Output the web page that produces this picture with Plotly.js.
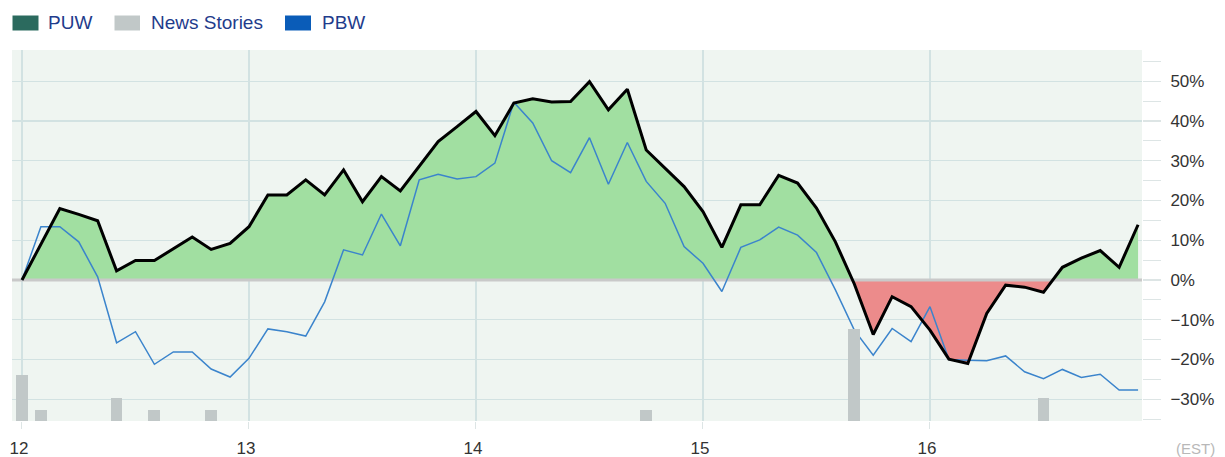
<!DOCTYPE html>
<html>
<head>
<meta charset="utf-8">
<script src="https://cdn.plot.ly/plotly-3.0.1.min.js"></script>
<style>html,body{margin:0;padding:0;background:#fff;} #chart{width:1225px;height:457px;}</style>
</head>
<body>
<div id="chart"></div>
<script>
// Time grid (fractional day of month, 2-hour-ish intraday steps)
const times = [
  12.0000, 12.0833, 12.1667, 12.2500, 12.3333, 12.4167, 12.5000, 12.5833, 12.6667, 12.7500, 12.8333, 12.9167,
  13.0000, 13.0833, 13.1667, 13.2500, 13.3333, 13.4167, 13.5000, 13.5833, 13.6667, 13.7500, 13.8333, 13.9167,
  14.0000, 14.0833, 14.1667, 14.2500, 14.3333, 14.4167, 14.5000, 14.5833, 14.6667, 14.7500, 14.8333, 14.9167,
  15.0000, 15.0833, 15.1667, 15.2500, 15.3333, 15.4167, 15.5000, 15.5833, 15.6667, 15.7500, 15.8333, 15.9167,
  16.0000, 16.0833, 16.1667, 16.2500, 16.3333, 16.4167, 16.5000, 16.5833, 16.6667, 16.7500, 16.8333, 16.9167
];
// PUW % change
const puw = [
  0, 9.2, 18.0, 16.5, 14.9, 2.3, 4.9, 4.9, 7.8, 10.8, 7.7, 9.2,
  13.4, 21.4, 21.4, 25.2, 21.4, 27.7, 19.7, 26.0, 22.4, 28.5, 34.8, 38.6,
  42.4, 36.3, 44.5, 45.6, 44.8, 44.9, 49.9, 42.8, 48.0, 32.7, 28.1, 23.5,
  17.2, 8.2, 18.9, 18.9, 26.3, 24.4, 18.1, 9.6, -1.0, -13.7, -4.2, -6.7,
  -12.6, -19.9, -21.0, -8.4, -1.3, -1.8, -3.1, 3.2, 5.5, 7.4, 3.2, 13.9
];
// PBW % change
const pbw = [
  0, 13.4, 13.4, 9.6, 0.8, -15.8, -13.0, -21.2, -18.1, -18.1, -22.4, -24.4,
  -19.7, -12.3, -13.0, -14.1, -5.5, 7.6, 6.3, 16.6, 8.6, 25.2, 26.6, 25.4,
  26.0, 29.4, 44.7, 39.5, 30.0, 27.0, 35.8, 24.1, 34.6, 24.8, 19.3, 8.4,
  4.2, -2.9, 8.2, 10.1, 13.3, 11.3, 6.9, -2.5, -12.6, -18.9, -12.2, -15.5,
  -6.7, -20.0, -20.2, -20.3, -19.1, -23.1, -24.8, -22.5, -24.5, -23.7, -27.7, -27.7
];
// News stories
const newsTimes = [12.0000, 12.0833, 12.4167, 12.5833, 12.8333, 14.7500, 15.6667, 16.5000];
const newsCounts = [4, 1, 2, 1, 1, 1, 8, 2];
// Axis ticks
const dayTicks = [12, 13, 14, 15, 16];
const dayLabels = ['12', '13', '14', '15', '16'];

const xRange = [11.956, 16.934];
const yRange = [-35.47, 57.86];

// split PUW into positive / negative parts with zero crossings
const fx = [], fpos = [], fneg = [];
for (let i = 0; i < times.length; i++) {
  if (i > 0) {
    const a = puw[i - 1], b = puw[i];
    if ((a > 0 && b < 0) || (a < 0 && b > 0)) {
      const t = a / (a - b);
      const xc = times[i - 1] + t * (times[i] - times[i - 1]);
      fx.push(xc); fpos.push(0); fneg.push(0);
    }
  }
  fx.push(times[i]);
  fpos.push(Math.max(puw[i], 0));
  fneg.push(Math.min(puw[i], 0));
}

const gridC = '#d2e2e2';
const tickC = '#dde5e5';
const font = 'Liberation Sans, Arial, Helvetica, sans-serif';

const traces = [
  {x: fx, y: fpos, type: 'scatter', mode: 'lines', fill: 'tozeroy', fillcolor: '#a1dfa1',
   line: {width: 0, color: 'rgba(0,0,0,0)'}, hoverinfo: 'skip', showlegend: false},
  {x: fx, y: fneg, type: 'scatter', mode: 'lines', fill: 'tozeroy', fillcolor: '#ec8b8b',
   line: {width: 0, color: 'rgba(0,0,0,0)'}, hoverinfo: 'skip', showlegend: false},
  {x: xRange, y: [0, 0], type: 'scatter', mode: 'lines', line: {color: '#c9c9c9', width: 3},
   hoverinfo: 'skip', showlegend: false},
  {x: newsTimes, y: newsCounts, type: 'bar', yaxis: 'y2', width: 0.052,
   marker: {color: '#c1c8c8', line: {width: 0}}, name: 'News Stories', showlegend: false},
  {x: times, y: pbw, type: 'scatter', mode: 'lines', name: 'PBW',
   line: {color: '#3b84cc', width: 1.5}, showlegend: false},
  {x: times, y: puw, type: 'scatter', mode: 'lines', name: 'PUW',
   line: {color: '#000000', width: 3}, showlegend: false}
];

// legend (paper coords): plot area x 12..1142, y 50..421
const px = v => (v - 12) / 1130;
const py = v => (421 - v) / 371;
const legendItems = [
  {label: 'PUW', color: '#2b6a5e', x0: 12.5, x1: 38.5, tx: 46},
  {label: 'News Stories', color: '#c1c8c8', x0: 114.5, x1: 140, tx: 148.5},
  {label: 'PBW', color: '#0a5cb8', x0: 285, x1: 311, tx: 319.5}
];
const shapes = legendItems.map(it => ({
  type: 'rect', xref: 'paper', yref: 'paper', x0: px(it.x0), x1: px(it.x1), y0: py(30.5), y1: py(15.5),
  fillcolor: it.color, line: {width: 0}
}));
const annotations = legendItems.map(it => ({
  xref: 'paper', yref: 'paper', x: px(it.tx), y: py(23), xanchor: 'left', yanchor: 'middle',
  text: it.label, showarrow: false, font: {family: font, size: 19, color: '#1f3c8c'}
}));
annotations.push({
  xref: 'paper', yref: 'paper', x: px(1195), y: py(448), xanchor: 'center', yanchor: 'middle',
  text: '(EST)', showarrow: false, font: {family: font, size: 15, color: '#b8b8b8'}
});

const layout = {
  width: 1225, height: 457,
  margin: {l: 12, r: 83, t: 50, b: 36, pad: 0},
  paper_bgcolor: '#ffffff',
  plot_bgcolor: '#eff5f1',
  showlegend: false,
  bargap: 0,
  xaxis: {
    range: xRange, tickvals: dayTicks, ticktext: dayLabels,
    showgrid: true, gridcolor: gridC, gridwidth: 1.2,
    ticks: 'outside', ticklen: 7, tickcolor: tickC, tickwidth: 1,
    tickfont: {family: font, size: 17, color: '#333333'},
    ticklabelshift: -3, ticklabelstandoff: 5,
    zeroline: false, showline: false, fixedrange: true
  },
  yaxis: {
    range: yRange, side: 'right', tick0: 0, dtick: 10, ticksuffix: '%',
    showgrid: true, gridcolor: gridC, gridwidth: 1.2,
    ticks: 'outside', ticklen: 18, tickcolor: tickC, tickwidth: 1.2,
    minor: {dtick: 5, tick0: 0, ticks: 'outside', ticklen: 18, tickcolor: tickC, tickwidth: 1.2, showgrid: false},
    tickfont: {family: font, size: 17, color: '#333333'},
    ticklabelstandoff: 6,
    zeroline: false, showline: false, fixedrange: true
  },
  yaxis2: {
    overlaying: 'y', range: [0, 32.3], visible: false, fixedrange: true
  },
  shapes: shapes,
  annotations: annotations
};

Plotly.newPlot('chart', traces, layout, {displayModeBar: false, staticPlot: true});
</script>
</body>
</html>
